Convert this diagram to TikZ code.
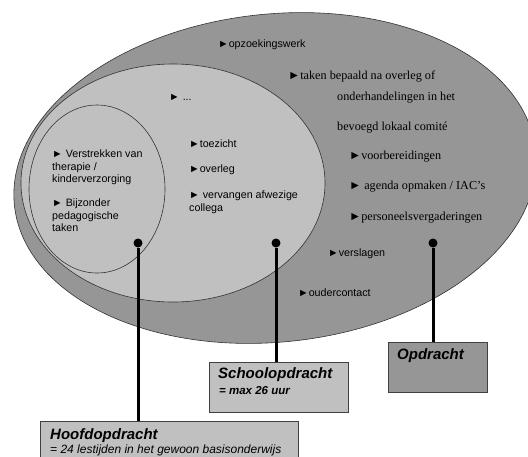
\documentclass[tikz,border=0pt]{standalone}
\usepackage{fontspec}
\setmainfont{Liberation Serif}
\setsansfont{Liberation Sans}
\tikzset{>=stealth}
\def\pijl{►}
\definecolor{donker}{RGB}{150,150,150}
\definecolor{licht}{RGB}{192,192,192}
\tikzset{
  sans/.style={font=\sffamily\fontsize{10.7}{12.5}\selectfont, inner sep=0, anchor=west, align=left},
  serif/.style={font=\fontsize{12.2}{14}\selectfont, inner sep=0, anchor=west},
  stip/.style={circle, fill=black, inner sep=0, minimum size=9},
  kader/.style={draw=black!75, line width=0.8, anchor=north west, inner sep=0},
  titel/.style={font=\sffamily\bfseries\itshape\fontsize{15}{17}\selectfont, inner sep=0, anchor=west},
  uitleg/.style={font=\sffamily\itshape\fontsize{12}{14}\selectfont, inner sep=0, anchor=west},
  lijn/.style={line width=3}
}

\begin{document}
\begin{tikzpicture}[x=1pt, y=-1pt]
    \useasboundingbox (0,0) rectangle (528,456);
    \clip (0,0) rectangle (528,456);

    % de drie ellipsen
    \filldraw [fill=donker, draw=black!80, line width=0.6, rotate around={6:(275,178)}] (275,178) ellipse [x radius=262, y radius=164];
    \filldraw [fill=licht, draw=black!80, line width=0.6] (173,183) ellipse [x radius=152, y radius=119];
    \filldraw [fill=licht, draw=black!80, line width=0.6] (97,189) ellipse [x radius=68, y radius=84];

    % opdracht
    \node [sans] (opzoek) at (218,45) {\pijl opzoekingswerk};
    \node [serif] (taken) at (288,77) {\pijl taken bepaald na overleg of};
    \node [serif] (onderh) at (337,98) {onderhandelingen in het};
    \node [serif] (bevoegd) at (337,128) {bevoegd lokaal comité};
    \node [serif] (voorb) at (349,157) {\pijl voorbereidingen};
    \node [serif] (agenda) at (349,187) {\pijl\ agenda opmaken / IAC’s};
    \node [serif] (personeel) at (349,218) {\pijl personeelsvergaderingen};
    \node [sans] (verslagen) at (328,254) {\pijl verslagen};
    \node [sans] (ouder) at (298,293) {\pijl oudercontact};

    % schoolopdracht
    \node [sans] (puntjes) at (169,97) {\pijl\ ...};
    \node [sans] (toezicht) at (189,144) {\pijl toezicht};
    \node [sans] (overleg) at (189,170) {\pijl overleg};
    \node [sans, anchor=north west] (vervangen) at (189,191) {\pijl\ vervangen afwezige\\collega};

    % hoofdopdracht
    \node [sans, anchor=north west] (verstrekken) at (52,150) {\pijl\ Verstrekken van\\therapie /\\kinderverzorging};
    \node [sans, anchor=north west] (bijzonder) at (52,199) {\pijl\ Bijzonder\\pedagogische\\taken};

    % stippen, kaders en lijnen
    \node [stip] (stiphoofd) at (138,243) {};
    \node [stip] (stipschool) at (276,243) {};
    \node [stip] (stipopdr) at (433,243) {};

    \node [kader, fill=licht, minimum width=258, minimum height=50] (hoofd) at (40,421) {};
    \node [kader, fill=licht, minimum width=139, minimum height=50] (school) at (209,362) {};
    \node [kader, fill=donker, minimum width=99, minimum height=50] (opdr) at (388,342) {};

    \draw [lijn] (stiphoofd) -- (stiphoofd |- hoofd.north);
    \draw [lijn] (stipschool) -- (stipschool |- school.north);
    \draw [lijn] (stipopdr) -- (stipopdr |- opdr.north);

    \node [titel] (hoofdtitel) at (50,436) {Hoofdopdracht};
    \node [uitleg] (hoofduitleg) at (50,450) {= 24 lestijden in het gewoon basisonderwijs};
    \node [titel] (schooltitel) at (218,375) {Schoolopdracht};
    \node [uitleg, font=\sffamily\bfseries\itshape\fontsize{11.5}{14}\selectfont] (schooluitleg) at (219,391) {= max 26 uur};
    \node [titel] (opdrtitel) at (397,356) {Opdracht};
\end{tikzpicture}
\end{document}
